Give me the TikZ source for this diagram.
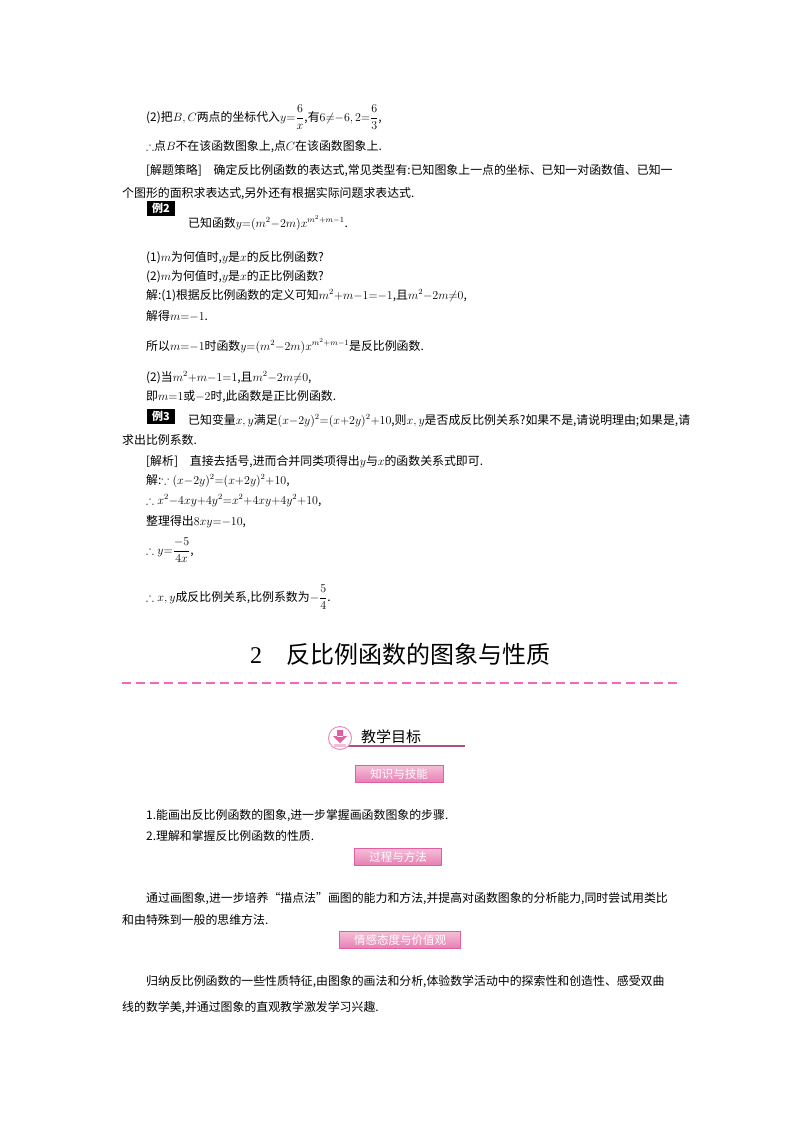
\documentclass[tikz,border=0pt]{standalone}
\usepackage{amsmath,amssymb}
\usepackage{fontspec}
\setmainfont{Noto Sans CJK SC}
\newfontfamily\tm{Liberation Serif}
\definecolor{pk}{RGB}{225,95,160}
\definecolor{pkl}{RGB}{245,190,215}
\definecolor{ul}{RGB}{170,80,130}
\begin{document}
\begin{tikzpicture}[x=1pt,y=-1pt,
  t/.style={anchor=base west,inner sep=0pt,font=\fontsize{11.9}{14}\selectfont},
  lbl/.style={fill=black,text=white,inner sep=1.5pt,font=\fontsize{11}{12}\selectfont\bfseries,minimum width=28pt,minimum height=15pt},
  pbox/.style={draw=pk,line width=0.8pt,top color=pkl,bottom color=pk!80,text=white,inner sep=1pt,minimum height=17pt,font=\fontsize{11.5}{13}\selectfont}]
\useasboundingbox (0,0) rectangle (800,1132);
\node[t] (l1) at (146,121) {(2)把$B,C$两点的坐标代入$y{=}\dfrac{6}{x}$,有$6{\neq}{-6},2{=}\dfrac{6}{3}$,};
\node[t] (l2) at (146,150) {$\therefore$点$B$不在该函数图象上,点$C$在该函数图象上.};
\node[t] (l3) at (146,174) {[解题策略]\quad 确定反比例函数的表达式,常见类型有:已知图象上一点的坐标、已知一对函数值、已知一};
\node[t] (l4) at (122,197) {个图形的面积求表达式,另外还有根据实际问题求表达式.};
\node[lbl] (e2) at (161,208) {例2};
\node[t] (l5) at (188,227) {已知函数$y{=}(m^2{-}2m)x^{m^2+m-1}$.};
\node[t] (l6) at (146,261) {(1)$m$为何值时,$y$是$x$的反比例函数?};
\node[t] (l7) at (146,280) {(2)$m$为何值时,$y$是$x$的正比例函数?};
\node[t] (l8) at (146,299) {解:(1)根据反比例函数的定义可知$m^2{+}m{-}1{=}{-1}$,且$m^2{-}2m{\neq}0$,};
\node[t] (l9) at (146,320) {解得$m{=}{-1}$.};
\node[t] (l10) at (146,350) {所以$m{=}{-1}$时函数$y{=}(m^2{-}2m)x^{m^2+m-1}$是反比例函数.};
\node[t] (l11) at (146,381) {(2)当$m^2{+}m{-}1{=}1$,且$m^2{-}2m{\neq}0$,};
\node[t] (l12) at (146,400) {即$m{=}1$或$-2$时,此函数是正比例函数.};
\node[lbl] (e3) at (161,416) {例3};
\node[t] (l13) at (188,424) {已知变量$x,y$满足$(x{-}2y)^2{=}(x{+}2y)^2{+}10$,则$x,y$是否成反比例关系?如果不是,请说明理由;如果是,请};
\node[t] (l14) at (122,444) {求出比例系数.};
\node[t] (l15) at (146,465) {[解析]\quad 直接去括号,进而合并同类项得出$y$与$x$的函数关系式即可.};
\node[t] (l16) at (146,484) {解:$\because(x{-}2y)^2{=}(x{+}2y)^2{+}10$,};
\node[t] (l17) at (146,504) {$\therefore x^2{-}4xy{+}4y^2{=}x^2{+}4xy{+}4y^2{+}10$,};
\node[t] (l18) at (146,525) {整理得出$8xy{=}{-10}$,};
\node[t] (l19) at (146,554) {$\therefore y{=}\dfrac{-5}{4x}$,};
\node[t] (l20) at (146,601) {$\therefore x,y$成反比例关系,比例系数为$-\dfrac{5}{4}$.};
\node[anchor=base,inner sep=0pt,font=\fontsize{24}{28}\selectfont] (h) at (400,663) {{\tm 2}\quad 反比例函数的图象与性质};
\draw[magenta!60,line width=1.2pt,dash pattern=on 9pt off 5pt] (122,683) coordinate (d1) -- (677,683) coordinate (d2);
\draw[ul,line width=1.2pt] (345,746) coordinate (u1) -- (465,746) coordinate (u2);
\draw[pk!70,line width=1pt,fill=white] (340,738) circle (11.5pt);
\fill[pk] (337,730) rectangle (343,737) (333,736) -- (347,736) -- (340,743) -- cycle;
\fill[pkl] (334,744) rectangle (346,747);
\node[anchor=base west,inner sep=0pt,font=\fontsize{15}{18}\selectfont] (g) at (361,742) {教学目标};
\node[pbox,minimum width=88pt] (b1) at (399,774) {知识与技能};
\node[t] (l21) at (146,819) {1.能画出反比例函数的图象,进一步掌握画函数图象的步骤.};
\node[t] (l22) at (146,840) {2.理解和掌握反比例函数的性质.};
\node[pbox,minimum width=87pt] (b2) at (398,857) {过程与方法};
\node[t] (l23) at (146,902) {通过画图象,进一步培养“描点法”画图的能力和方法,并提高对函数图象的分析能力,同时尝试用类比};
\node[t] (l24) at (122,924) {和由特殊到一般的思维方法.};
\node[pbox,minimum width=121pt] (b3) at (400,940) {情感态度与价值观};
\node[t] (l25) at (146,985) {归纳反比例函数的一些性质特征,由图象的画法和分析,体验数学活动中的探索性和创造性、感受双曲};
\node[t] (l26) at (122,1011) {线的数学美,并通过图象的直观教学激发学习兴趣.};
\end{tikzpicture}
\end{document}
